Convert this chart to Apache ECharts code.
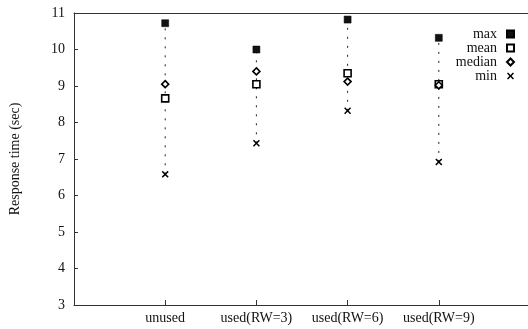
<!DOCTYPE html>
<html>
<head>
<meta charset="utf-8">
<script src="https://cdn.jsdelivr.net/npm/echarts@6/dist/echarts.min.js"></script>
<style>
  html, body { margin: 0; padding: 0; background: #fff; }
  #chart { width: 528px; height: 329px; }
</style>
</head>
<body>
<div id="chart"></div>
<script>
// 类别和各项统计值
const categories = ['unused', 'used(RW=3)', 'used(RW=6)', 'used(RW=9)']
const maxValues = [10.72, 10.0, 10.82, 10.32]
const meanValues = [8.66, 9.05, 9.35, 9.05]
const medianValues = [9.05, 9.4, 9.12, 9.02]
const minValues = [6.58, 7.43, 8.32, 6.92]
const yTicks = [3, 4, 5, 6, 7, 8, 9, 10, 11]

const font = '"Liberation Serif", "DejaVu Serif", serif'
const ink = '#111'

// x 轴用数值轴，类别放在 1..4
const pts = vals => vals.map((v, i) => [i + 1, v])

const chart = echarts.init(document.getElementById('chart'), null, { renderer: 'canvas' })

const markers = {
  max: 'path://M0,0 L10,0 L10,10 L0,10 Z',
  mean: 'rect',
  median: 'diamond',
  min: 'path://M0,1.5 L1.5,0 L5,3.5 L8.5,0 L10,1.5 L6.5,5 L10,8.5 L8.5,10 L5,6.5 L1.5,10 L0,8.5 L3.5,5 Z'
}

const option = {
  backgroundColor: '#fff',
  animation: false,
  grid: {
    left: 74,
    top: 13,
    width: 456,
    bottom: 24,
    outerBoundsMode: 'none'
  },
  legend: {
    orient: 'vertical',
    right: 8,
    top: 22,
    align: 'right',
    itemWidth: 7,
    itemHeight: 7,
    itemGap: 0,
    data: ['max', 'mean', 'median', 'min'],
    textStyle: { fontFamily: font, fontSize: 14, color: ink, lineHeight: 14, padding: [0, 5, 0, 0] }
  },
  xAxis: [
    {
      type: 'value',
      min: 0,
      max: 5,
      interval: 1,
      splitLine: { show: false },
      axisLine: { lineStyle: { color: '#333', width: 1 } },
      axisTick: { inside: true, length: 5, customValues: [1, 2, 3, 4], lineStyle: { color: '#333' } },
      axisLabel: {
        customValues: [1, 2, 3, 4],
        margin: 6,
        fontFamily: font,
        fontSize: 14,
        color: ink,
        formatter: v => categories[v - 1] || ''
      }
    },
    {
      // 顶部边框线
      type: 'value',
      position: 'top',
      min: 0,
      max: 5,
      splitLine: { show: false },
      axisLine: { show: true, lineStyle: { color: '#333', width: 1 } },
      axisTick: { show: false },
      axisLabel: { show: false }
    }
  ],
  yAxis: {
    type: 'value',
    min: 3,
    max: 11,
    interval: 1,
    name: 'Response time (sec)',
    nameLocation: 'middle',
    nameGap: 52,
    nameTextStyle: { fontFamily: font, fontSize: 14, color: ink },
    splitLine: { show: false },
    axisLine: { show: true, lineStyle: { color: '#333', width: 1 } },
    axisTick: { inside: true, length: 4, lineStyle: { color: '#333' } },
    axisLabel: {
      margin: 9,
      fontFamily: font,
      fontSize: 14,
      color: ink,
      formatter: v => (yTicks.includes(v) ? String(v) : '')
    }
  },
  series: [
    {
      // 最小到最大的虚线
      type: 'custom',
      silent: true,
      z: 1,
      data: categories.map((c, i) => [i + 1, minValues[i], maxValues[i]]),
      renderItem(params, api) {
        const lo = api.coord([api.value(0), api.value(1)])
        const hi = api.coord([api.value(0), api.value(2)])
        return {
          type: 'line',
          shape: { x1: lo[0], y1: lo[1], x2: hi[0], y2: hi[1] },
          style: { stroke: '#222', lineWidth: 1, lineDash: [2, 7] }
        }
      }
    },
    {
      name: 'max',
      type: 'scatter',
      z: 3,
      symbol: markers.max,
      symbolSize: 7,
      itemStyle: { color: '#111', borderColor: '#000', borderWidth: 0.5, opacity: 1 },
      data: pts(maxValues)
    },
    {
      name: 'mean',
      type: 'scatter',
      z: 3,
      symbol: markers.mean,
      symbolSize: 7,
      itemStyle: { color: '#fff', borderColor: '#000', borderWidth: 1.6, opacity: 1 },
      data: pts(meanValues)
    },
    {
      name: 'median',
      type: 'scatter',
      z: 4,
      symbol: markers.median,
      symbolSize: 7,
      itemStyle: { color: '#fff', borderColor: '#000', borderWidth: 1.6, opacity: 1 },
      data: pts(medianValues)
    },
    {
      name: 'min',
      type: 'scatter',
      z: 3,
      symbol: markers.min,
      symbolSize: 7,
      itemStyle: { color: '#000', opacity: 1 },
      data: pts(minValues)
    }
  ]
}

chart.setOption(option)
</script>
</body>
</html>
